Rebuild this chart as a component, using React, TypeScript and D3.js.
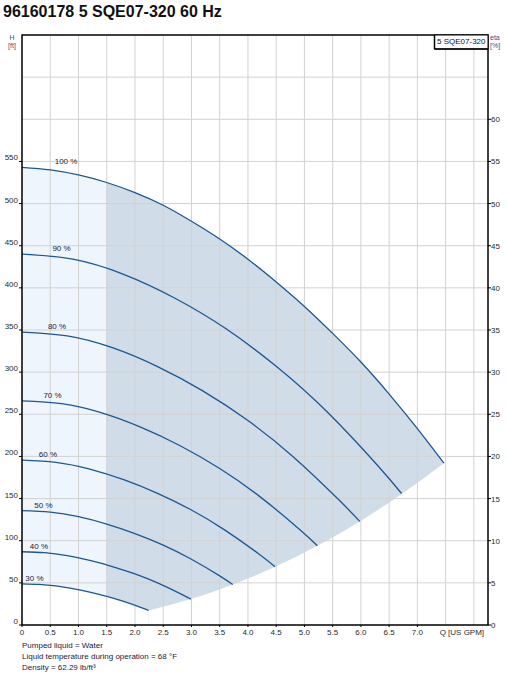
import React from "react";
import * as d3 from "d3";

const title = "96160178 5 SQE07-320 60 Hz";
const legendLabel = "5 SQE07-320";
const footerLines = [
  "Pumped liquid = Water",
  "Liquid temperature during operation = 68 °F",
  "Density = 62.29 lb/ft³",
];

const xTicks = [0, 0.5, 1, 1.5, 2, 2.5, 3, 3.5, 4, 4.5, 5, 5.5, 6, 6.5, 7];
const xTickLabels = ["0", "0.5", "1.0", "1.5", "2.0", "2.5", "3.0", "3.5", "4.0", "4.5", "5.0", "5.5", "6.0", "6.5", "7.0"];
const xAxisTitle = "Q [US GPM]";
const xGrid = [0.5, 1, 1.5, 2, 2.5, 3, 3.5, 4, 4.5, 5, 5.5, 6, 6.5, 7, 7.5, 8];
const hTicks = [0, 50, 100, 150, 200, 250, 300, 350, 400, 450, 500, 550];
const hGrid = [50, 100, 150, 200, 250, 300, 350, 400, 450, 500, 550, 600, 650];
const etaTicks = [0, 5, 10, 15, 20, 25, 30, 35, 40, 45, 50, 55, 60];

const speedNames = ["100 %", "90 %", "80 %", "70 %", "60 %", "50 %", "40 %", "30 %"];
const speedLabelQ = [0.78, 0.7, 0.62, 0.54, 0.46, 0.38, 0.3, 0.22];

const q100 = [0, 0.5, 1, 1.5, 2, 2.5, 3, 3.5, 4, 4.5, 5, 5.5, 6, 6.5, 7, 7.47];
const h100 = [543, 540, 534, 525, 513, 498, 479, 458, 434, 407, 378, 346, 312, 274, 233, 192];
const q90 = [0, 0.9, 1.8, 2.7, 3.6, 4.5, 5.4, 6.3, 6.72];
const h90 = [440, 434, 416, 388, 352, 307, 253, 189, 156];
const q80 = [0, 0.8, 1.6, 2.4, 3.2, 4.0, 4.8, 5.6, 5.98];
const h80 = [347.5, 343, 329, 306.6, 277.8, 242.6, 199.7, 149.1, 122.9];
const q70 = [0, 0.7, 1.4, 2.1, 2.8, 3.5, 4.2, 4.9, 5.23];
const h70 = [266, 262.6, 251.9, 234.7, 212.7, 185.7, 152.9, 114.2, 94.1];
const q60 = [0, 0.6, 1.2, 1.8, 2.4, 3.0, 3.6, 4.2, 4.48];
const h60 = [195.5, 193, 185, 172.4, 156.2, 136.4, 112.3, 83.9, 69.1];
const q50 = [0, 0.5, 1.0, 1.5, 2.0, 2.5, 3.0, 3.5, 3.73];
const h50 = [135.8, 134, 128.5, 119.8, 108.5, 94.8, 78, 58.3, 48];
const q40 = [0, 0.4, 0.8, 1.2, 1.6, 2.0, 2.4, 2.8, 2.99];
const h40 = [86.9, 85.8, 82.2, 76.6, 69.4, 60.6, 49.9, 37.3, 30.7];
const q30 = [0, 0.3, 0.6, 0.9, 1.2, 1.5, 1.8, 2.1, 2.24];
const h30 = [48.9, 48.2, 46.3, 43.1, 39.1, 34.1, 28.1, 21, 17.3];

const boundaryQ = [2.24, 2.99, 3.73, 4.48, 5.23, 5.98, 6.72, 7.47];
const boundaryH = [17.3, 30.7, 48, 69.1, 94.1, 122.9, 155.5, 192];

const lightEndQ = 1.5;

const curvesQ = [q100, q90, q80, q70, q60, q50, q40, q30];
const curvesH = [h100, h90, h80, h70, h60, h50, h40, h30];

type P = [number, number];

export default function App() {
  const W = 507, H = 676;
  const left = 22, right = 488, top = 35, bottom = 625;
  const x = d3.scaleLinear().domain([0, 8.25]).range([left, right]);
  const y = d3.scaleLinear().domain([0, 700]).range([bottom, top]);
  const yEta = d3.scaleLinear().domain([0, 70]).range([bottom, top]);
  const font = "Arial, 'Liberation Sans', sans-serif";

  const line = d3.line<P>().x(d => x(d[0])).y(d => y(d[1])).curve(d3.curveNatural);
  const under = d3.area<P>().x(d => x(d[0])).y0(bottom).y1(d => y(d[1])).curve(d3.curveNatural);

  const pts = (qs: number[], hs: number[]): P[] => qs.map((q, i) => [q, hs[i]] as P);

  const under100 = under(pts(q100, h100)) || "";
  const under30 = under(pts(q30, h30)) || "";
  const underBoundary = under(pts(boundaryQ, boundaryH)) || "";
  const xs = x(lightEndQ);

  const textColor = "#2a2a2a";

  return (
    <svg width={W} height={H} style={{ position: "absolute", left: 0, top: 0, background: "#fff" }} fontFamily={font}>
      <defs>
        <clipPath id="clipLight">
          <rect x={left} y={top} width={xs - left} height={bottom - top} />
        </clipPath>
        <clipPath id="clipDark">
          <rect x={xs} y={top} width={right - xs} height={bottom - top} />
        </clipPath>
      </defs>

      <text x={3} y={17} fontSize={16} fontWeight="bold" fill="#111">{title}</text>

      {/* shaded operating regions */}
      <path d={under100} fill="#eef5fd" clipPath="url(#clipLight)" />
      <path d={under100} fill="#d0dce8" clipPath="url(#clipDark)" />
      <path d={under30} fill="#fff" />
      <path d={underBoundary} fill="#fff" />

      {/* grid */}
      {xGrid.map(v => (
        <line key={"xg" + v} x1={x(v)} x2={x(v)} y1={top} y2={bottom} stroke="#d2d2d2" strokeWidth={1} />
      ))}
      {hGrid.map(v => (
        <line key={"hg" + v} x1={left} x2={right} y1={y(v)} y2={y(v)} stroke="#d2d2d2" strokeWidth={1} />
      ))}

      {/* curves */}
      {curvesQ.map((qs, i) => (
        <path key={"c" + i} d={line(pts(qs, curvesH[i])) || ""} fill="none" stroke="#1d5791" strokeWidth={1.3} />
      ))}
      {speedNames.map((n, i) => (
        <text key={"l" + i} x={x(speedLabelQ[i])} y={y(curvesH[i][0]) - 3} fontSize={8} textAnchor="middle" fill="#1a2440">{n}</text>
      ))}

      {/* frame */}
      <rect x={left} y={top} width={right - left} height={bottom - top} fill="none" stroke="#000" strokeWidth={1.5} />

      {/* left ticks */}
      {hTicks.map(v => (
        <g key={"ht" + v}>
          <line x1={left - 3} x2={left} y1={y(v)} y2={y(v)} stroke="#000" strokeWidth={1} />
          <text x={left - 4} y={y(v) - 1} fontSize={8} textAnchor="end" fill={textColor}>{v}</text>
        </g>
      ))}
      {/* right ticks */}
      {etaTicks.map(v => (
        <g key={"et" + v}>
          <line x1={right} x2={right + 3} y1={yEta(v)} y2={yEta(v)} stroke="#000" strokeWidth={1} />
          <text x={right + 3} y={yEta(v) + 3} fontSize={8} textAnchor="start" fill={textColor}>{v}</text>
        </g>
      ))}
      {/* bottom ticks */}
      {xTicks.map((v, i) => (
        <g key={"xt" + v}>
          <line x1={x(v)} x2={x(v)} y1={bottom} y2={bottom + 2} stroke="#000" strokeWidth={1} />
          <text x={x(v)} y={bottom + 10} fontSize={8} textAnchor="middle" fill={textColor}>{xTickLabels[i]}</text>
        </g>
      ))}
      <text x={x(7.5) - 6} y={bottom + 10} fontSize={8} textAnchor="start" fill={textColor}>{xAxisTitle}</text>

      {/* axis titles */}
      <text x={12} y={40} fontSize={7} textAnchor="middle" fill="#5a4a6a">H</text>
      <text x={12} y={48} fontSize={7} textAnchor="middle" fill="#5a4a6a">[ft]</text>
      <text x={490} y={40} fontSize={7} textAnchor="start" fill="#4a4a7a">eta</text>
      <text x={490} y={48} fontSize={7} textAnchor="start" fill="#4a4a7a">[%]</text>

      {/* legend box */}
      <rect x={434.5} y={top} width={right - 434.5} height={14} fill="#fff" stroke="#000" strokeWidth={1} />
      <line x1={434.5} x2={434.5} y1={top} y2={top + 14} stroke="#000" strokeWidth={1.5} />
      <line x1={434.5} x2={right} y1={top + 14} y2={top + 14} stroke="#000" strokeWidth={1.5} />
      <text x={437} y={top + 9} fontSize={8} fill="#111">{legendLabel}</text>

      {/* footer */}
      {footerLines.map((t, i) => (
        <text key={"f" + i} x={22} y={648 + i * 11} fontSize={8} fill="#1a1a40">{t}</text>
      ))}
    </svg>
  );
}
